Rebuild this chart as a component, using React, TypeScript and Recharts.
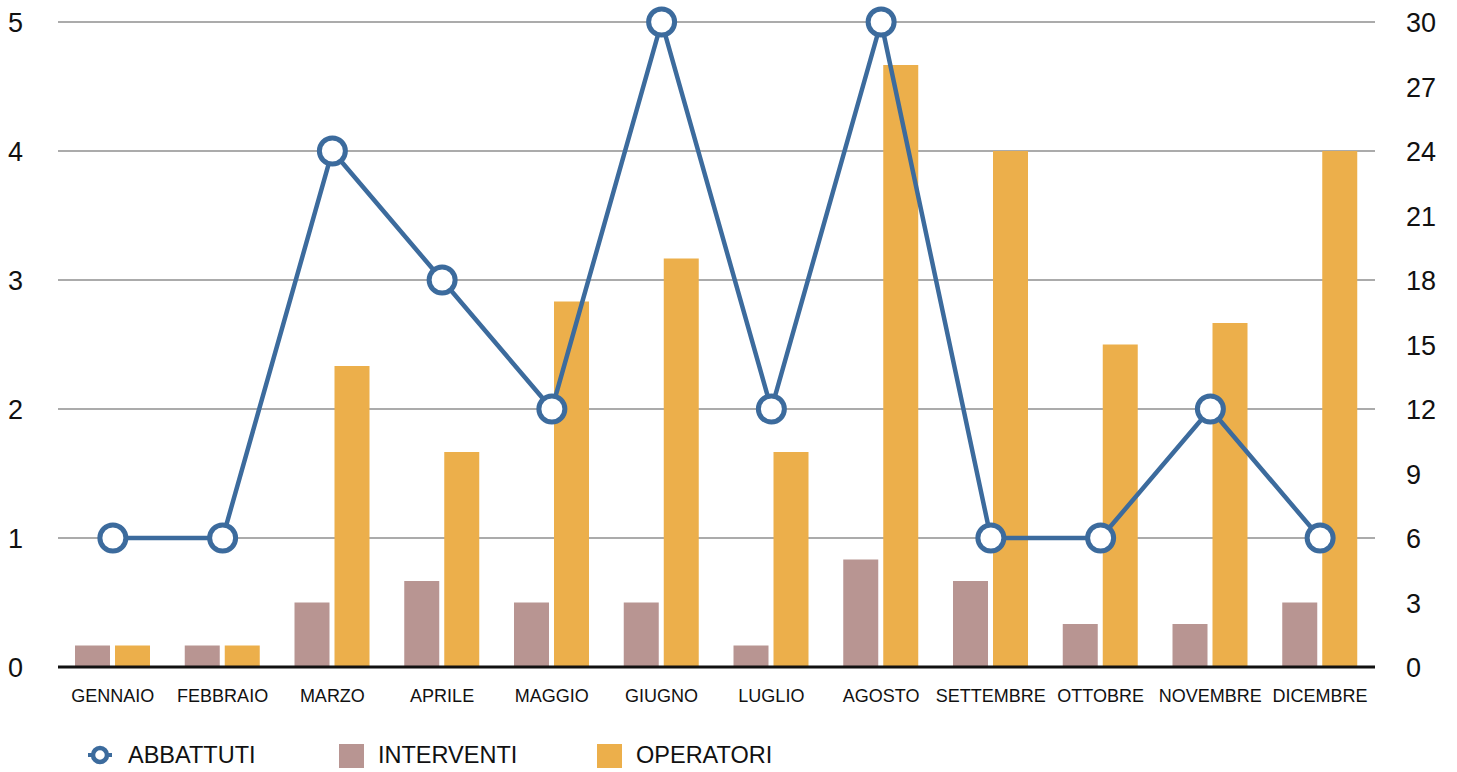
import React from "react";
import {
  ComposedChart,
  Bar,
  Line,
  XAxis,
  YAxis,
  CartesianGrid,
  Legend,
  ReferenceLine,
} from "recharts";

const months = [
  "GENNAIO",
  "FEBBRAIO",
  "MARZO",
  "APRILE",
  "MAGGIO",
  "GIUGNO",
  "LUGLIO",
  "AGOSTO",
  "SETTEMBRE",
  "OTTOBRE",
  "NOVEMBRE",
  "DICEMBRE",
];
const abbattuti = [1, 1, 4, 3, 2, 5, 2, 5, 1, 1, 2, 1];
const interventi = [1, 1, 3, 4, 3, 3, 1, 5, 4, 2, 2, 3];
const operatori = [1, 1, 14, 10, 17, 19, 10, 28, 24, 15, 16, 24];
const leftTicks = [0, 1, 2, 3, 4, 5];
const rightTicks = [0, 3, 6, 9, 12, 15, 18, 21, 24, 27, 30];

const data = months.map((m, i) => ({
  month: m,
  ABBATTUTI: abbattuti[i],
  INTERVENTI: interventi[i],
  OPERATORI: operatori[i],
}));

const FONT = "'Liberation Sans', Arial, Helvetica, sans-serif";
const BLUE = "#3c6b9d";
const MAUVE = "#b89592";
const ORANGE = "#ecaf4b";

const LeftTick = (props: any) => {
  const { x, y, payload } = props;
  return (
    <text x={x - 27} y={y} dy={10} textAnchor="end" fontSize={27} fill="#111" fontFamily={FONT}>
      {payload.value}
    </text>
  );
};

const RightTick = (props: any) => {
  const { x, y, payload } = props;
  return (
    <text x={x + 23} y={y} dy={10} textAnchor="start" fontSize={27} fill="#111" fontFamily={FONT}>
      {payload.value}
    </text>
  );
};

const XTick = (props: any) => {
  const { x, y, payload } = props;
  return (
    <text x={x} y={y} dy={27} textAnchor="middle" fontSize={18} fill="#111" fontFamily={FONT}>
      {payload.value}
    </text>
  );
};

const LegendContent = () => (
  <svg width={1457} height={40} style={{ display: "block" }}>
    <line x1={88} x2={112} y1={20} y2={20} stroke={BLUE} strokeWidth={4} />
    <circle cx={100} cy={20} r={7} fill="#fff" stroke={BLUE} strokeWidth={4.5} />
    <text x={128} y={28} fontSize={23.5} fill="#111" fontFamily={FONT}>
      ABBATTUTI
    </text>
    <rect x={339} y={9} width={25} height={24} fill={MAUVE} />
    <text x={378} y={28} fontSize={23.5} fill="#111" fontFamily={FONT}>
      INTERVENTI
    </text>
    <rect x={597} y={9} width={25} height={24} fill={ORANGE} />
    <text x={636} y={28} fontSize={23.5} fill="#111" fontFamily={FONT}>
      OPERATORI
    </text>
  </svg>
);

export default function App() {
  return (
    <div style={{ position: "absolute", left: 0, top: 0, width: 1457, height: 772, background: "#fff" }}>
      <ComposedChart
        width={1457}
        height={772}
        data={data}
        margin={{ top: 22, right: 0, left: 0, bottom: 25 }}
        barGap={5}
      >
        <CartesianGrid yAxisId="left" vertical={false} stroke="#ababab" strokeWidth={2} ticks={leftTicks} />
        <XAxis
          dataKey="month"
          height={40}
          tick={<XTick />}
          tickLine={false}
          axisLine={false}
          interval={0}
        />
        <YAxis
          yAxisId="left"
          orientation="left"
          width={58}
          domain={[0, 5]}
          ticks={leftTicks}
          tick={<LeftTick />}
          tickLine={false}
          axisLine={false}
          interval={0}
        />
        <YAxis
          yAxisId="right"
          orientation="right"
          width={82}
          domain={[0, 30]}
          ticks={rightTicks}
          tick={<RightTick />}
          tickLine={false}
          axisLine={false}
          interval={0}
        />
        <Bar yAxisId="right" dataKey="INTERVENTI" fill={MAUVE} barSize={35} isAnimationActive={false} />
        <Bar yAxisId="right" dataKey="OPERATORI" fill={ORANGE} barSize={35} isAnimationActive={false} />
        <ReferenceLine yAxisId="left" y={0} stroke="#111" strokeWidth={3} />
        <Line
          yAxisId="left"
          dataKey="ABBATTUTI"
          stroke={BLUE}
          strokeWidth={4.5}
          dot={{ r: 13, fill: "#fff", stroke: BLUE, strokeWidth: 5 }}
          activeDot={false}
          isAnimationActive={false}
        />
        <Legend
          verticalAlign="bottom"
          content={<LegendContent />}
          wrapperStyle={{ left: 0, top: 735, width: 1457, height: 40 }}
        />
      </ComposedChart>
    </div>
  );
}
